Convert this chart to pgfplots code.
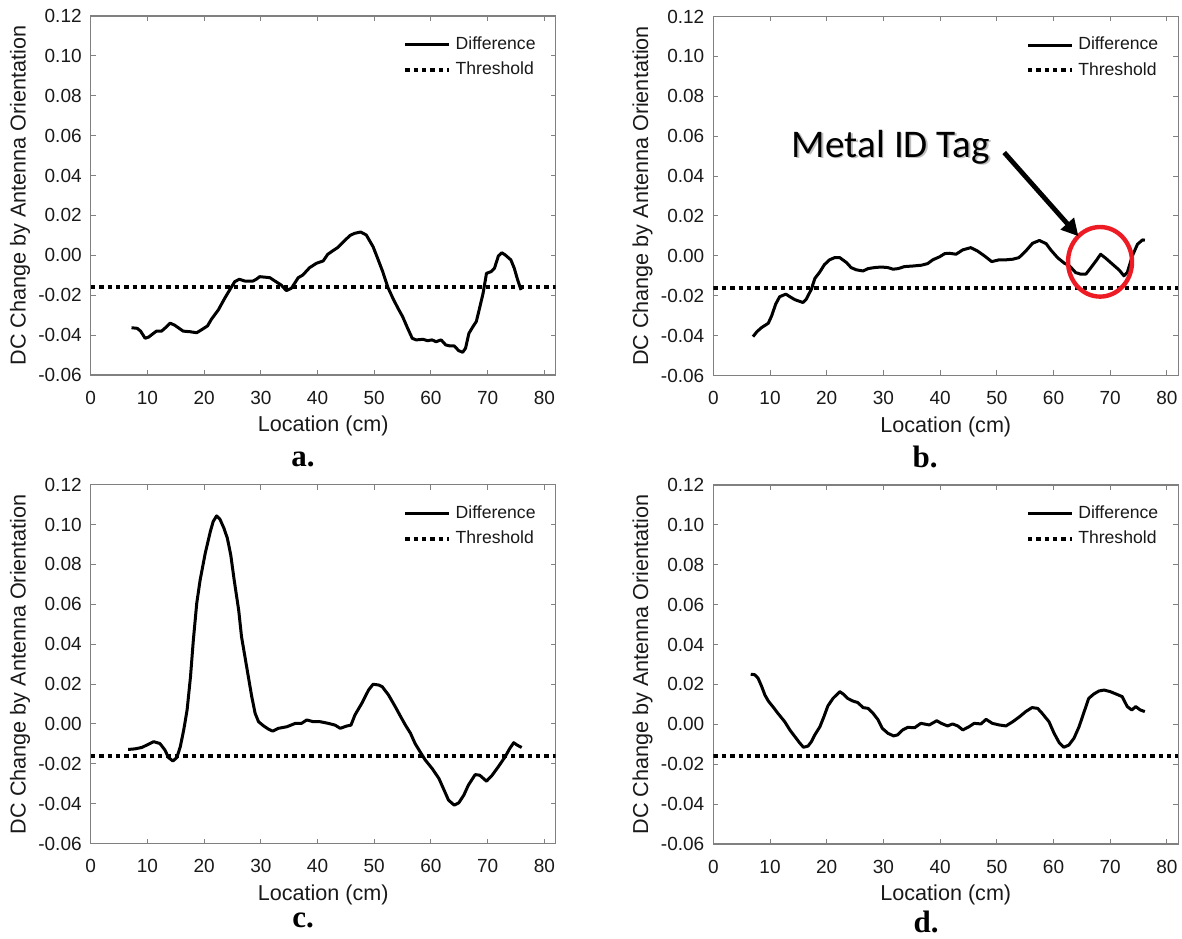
\documentclass[border=0pt]{standalone}
\usepackage{fontspec}
\setmainfont{Liberation Sans}
\newfontfamily\labelfont{Liberation Serif}
\newfontfamily\calfont{Carlito}
\usepackage{pgfplots}
\pgfplotsset{compat=1.18}
\usetikzlibrary{arrows.meta}
\definecolor{cred}{RGB}{237,28,36}

\pgfplotsset{panel/.style={
  scale only axis, width=232.5pt, height=179.5pt, anchor=south west,
  xmin=0, xmax=82, ymin=-0.06, ymax=0.12,
  xtick={0,10,...,80},
  ytick={-0.06,-0.04,-0.02,0,0.02,0.04,0.06,0.08,0.1,0.12},
  yticklabel style={/pgf/number format/fixed, /pgf/number format/fixed zerofill, /pgf/number format/precision=2, xshift=-1pt},
  /pgf/number format/assume math mode=true,
  tick align=inside, major tick length=2.5pt,
  tick style={black!50, line width=0.5pt},
  axis line style={black!50, line width=0.6pt},
  ticklabel style={font=\fontsize{9.5}{11}\selectfont, text=black!90},
  xticklabel style={yshift=-4.4pt},
  xlabel={Location (cm)}, ylabel={DC Change by Antenna Orientation},
  label style={font=\fontsize{10.8}{12}\selectfont, text=black!90},
  xlabel style={at={(axis description cs:0.5,-0.142)}, anchor=center},
  ylabel style={at={(axis description cs:-0.152,0.5)}, anchor=center},
  legend style={draw=none, fill=none, at={(axis description cs:1,1)}, anchor=north east,
    xshift=-7.6pt, yshift=-7.9pt, font=\fontsize{8.8}{10}\selectfont, text=black!90,
    row sep=0.3pt, inner sep=0pt, nodes={inner sep=2.25pt}},
  legend cell align=left,
  legend image code/.code={\draw[#1] (0pt,0pt) -- (22pt,0pt);},
}}
\pgfplotsset{diff/.style={black, line width=1.5pt, line join=round},
  thr/.style={black, line width=2pt, dash pattern=on 2.2pt off 2pt}}

\begin{document}
\begin{tikzpicture}
\useasboundingbox (0,0) rectangle (591pt,469pt);

% ---------- a ----------
\begin{axis}[panel, at={(45.35pt,281.5pt)}]
\addplot[diff] coordinates {
(7.2,-0.0363) (8.2,-0.0366) (8.8,-0.038) (9.6,-0.0416) (10.2,-0.041) (11.6,-0.038)
(12.5,-0.038) (13.3,-0.036) (14.0,-0.034) (14.8,-0.035) (16.3,-0.038) (17.5,-0.0383)
(18.7,-0.0388) (19.5,-0.0374) (20.6,-0.0354) (21.3,-0.032) (22.5,-0.0274) (23.7,-0.0212)
(24.5,-0.0174) (25.4,-0.0132) (26.2,-0.012) (27.2,-0.0129) (28.6,-0.0129) (29.2,-0.012)
(29.8,-0.0107) (31.6,-0.0112) (32.5,-0.0129) (33.6,-0.0149) (34.5,-0.0177) (35.4,-0.0165)
(36.6,-0.0112) (37.4,-0.0099) (38.6,-0.0062) (39.8,-0.004) (41.0,-0.0028) (41.8,0.0005)
(42.7,0.0023) (43.6,0.004) (44.8,0.0074) (45.7,0.0099) (46.5,0.011) (47.6,0.0117)
(48.6,0.0102) (49.8,0.0043) (50.6,-0.0015) (51.5,-0.0082) (52.4,-0.016) (53.3,-0.0216)
(54.2,-0.0266) (55.0,-0.0307) (55.9,-0.0366) (56.7,-0.0416) (57.4,-0.0424) (58.6,-0.0421)
(59.4,-0.0428) (60.2,-0.0424) (60.9,-0.0433) (61.8,-0.0424) (62.6,-0.0449) (63.3,-0.0454)
(64.1,-0.0454) (64.9,-0.0478) (65.6,-0.0486) (66.1,-0.0466) (66.7,-0.0391) (67.4,-0.0358)
(68.0,-0.0332) (68.5,-0.0274) (69.2,-0.019) (69.8,-0.009) (70.6,-0.0082) (71.2,-0.0065)
(71.9,-0.0003) (72.5,0.0013) (73.1,0.0002) (74.1,-0.0023) (74.7,-0.0065) (75.3,-0.0124)
(75.9,-0.0174)};
\addlegendentry{Difference}
\addplot[thr] coordinates {(0,-0.016) (82,-0.016)};
\addlegendentry{Threshold}
\end{axis}

% ---------- b ----------
\begin{axis}[panel, at={(356.65pt,281.25pt)}]
\addplot[diff] coordinates {
(7.0,-0.0405) (7.7,-0.038) (8.5,-0.036) (9.7,-0.0338) (10.3,-0.030) (11.0,-0.0242)
(11.7,-0.0205) (12.8,-0.0192) (13.5,-0.0205) (14.4,-0.022) (15.8,-0.0234) (16.4,-0.0217)
(17.3,-0.0167) (17.9,-0.0114) (18.8,-0.008) (19.6,-0.0044) (20.5,-0.002) (21.4,-0.0009)
(22.3,-0.0009) (23.5,-0.0034) (24.3,-0.0059) (25.2,-0.007) (26.4,-0.0076) (27.3,-0.0064)
(28.4,-0.0059) (29.6,-0.0056) (30.8,-0.0059) (31.7,-0.0067) (32.6,-0.0064) (33.7,-0.0054)
(35.2,-0.0051) (36.7,-0.0047) (37.8,-0.0039) (38.7,-0.002) (39.9,-0.0005) (40.8,0.0011)
(41.6,0.0013) (42.8,0.0008) (44.0,0.003) (45.4,0.0041) (46.6,0.0024) (47.8,0.0)
(49.1,-0.0029) (50.4,-0.002) (51.6,-0.002) (52.8,-0.0017) (53.9,-0.0009) (55.1,0.0024)
(56.3,0.0063) (57.5,0.0077) (58.7,0.0061) (59.5,0.003) (60.7,-0.0009) (61.9,-0.0037)
(62.8,-0.005) (63.9,-0.0084) (64.8,-0.0092) (65.7,-0.0092) (66.6,-0.0059) (67.5,-0.0025)
(68.3,0.0008) (69.2,-0.0012) (70.4,-0.0042) (71.6,-0.0072) (72.4,-0.010) (73.0,-0.0084)
(73.9,0.0) (74.8,0.0058) (75.7,0.008) (76.1,0.0078)};
\addlegendentry{Difference}
\addplot[thr] coordinates {(0,-0.016) (82,-0.016)};
\addlegendentry{Threshold}
\draw[cred, line width=2.2pt] (axis cs:68.2,-0.003) ellipse [x radius=16pt, y radius=17.4pt];
\node[anchor=base west, inner sep=0pt, text=black!25, font=\calfont\fontsize{19.6}{22}\selectfont]
  at ([shift={(0.7pt,-0.7pt)}]axis cs:13.8,0.0493) {Metal ID Tag};
\node[anchor=base west, inner sep=0pt, text=black, font=\calfont\fontsize{19.6}{22}\selectfont]
  at (axis cs:13.8,0.0493) {Metal ID Tag};
\draw[black, line width=2.4pt, -{Triangle[length=8.5pt,width=8.5pt]}]
  (axis cs:51.3,0.0518) -- (axis cs:64.4,0.0098);
\end{axis}

% ---------- c ----------
\begin{axis}[panel, at={(45.35pt,47.2pt)}]
\addplot[diff] coordinates {
(6.6,-0.0128) (7.8,-0.0125) (9.0,-0.0118) (9.9,-0.0106) (11.1,-0.0089) (12.2,-0.0098)
(13.1,-0.0131) (13.7,-0.0168) (14.5,-0.0186) (15.2,-0.0168) (15.8,-0.0114) (16.4,-0.0031)
(17.0,0.007) (17.6,0.0237) (18.1,0.042) (18.7,0.0605) (19.3,0.0722) (20.2,0.0856)
(21.1,0.0965) (21.6,0.1015) (22.2,0.1043) (22.8,0.1026) (23.5,0.0981) (24.1,0.0931)
(24.7,0.0847) (25.3,0.0722) (26.1,0.057) (26.6,0.0437) (27.2,0.0337) (27.8,0.0237)
(28.4,0.0137) (29.0,0.0053) (29.6,0.0011) (30.5,-0.001) (31.4,-0.0027) (32.1,-0.0036)
(33.1,-0.0022) (34.6,-0.0014) (36.1,0.0003) (37.2,0.0003) (38.1,0.002) (39.3,0.0011)
(40.5,0.0011) (41.9,0.0003) (43.1,-0.0006) (44.0,-0.0022) (45.2,-0.001) (45.9,-0.0006)
(46.6,0.0045) (47.8,0.0103) (49.0,0.017) (49.8,0.0199) (50.8,0.0195) (51.4,0.0187)
(52.5,0.0146) (53.7,0.0087) (54.6,0.004) (55.5,-0.0006) (56.4,-0.0047) (57.2,-0.0098)
(58.1,-0.014) (59.0,-0.0181) (60.2,-0.0223) (61.4,-0.0273) (62.2,-0.0324) (63.1,-0.0382)
(64.1,-0.0407) (64.9,-0.0396) (65.8,-0.0357) (66.6,-0.0307) (67.8,-0.0254) (68.6,-0.0257)
(69.8,-0.0287) (70.8,-0.0257) (71.9,-0.0214) (73.1,-0.0164) (73.9,-0.0123) (74.6,-0.0094)
(75.2,-0.0106) (76.0,-0.0118)};
\addlegendentry{Difference}
\addplot[thr] coordinates {(0,-0.016) (82,-0.016)};
\addlegendentry{Threshold}
\end{axis}

% ---------- d ----------
\begin{axis}[panel, at={(356.65pt,47pt)}]
\addplot[diff] coordinates {
(6.6,0.0251) (7.3,0.0249) (7.9,0.0231) (8.5,0.0192) (9.1,0.0147) (9.7,0.0117)
(10.6,0.0085) (11.4,0.0055) (12.6,0.0013) (13.5,-0.0028) (14.4,-0.0062) (15.2,-0.0092)
(15.9,-0.0115) (16.7,-0.0109) (17.3,-0.0087) (17.9,-0.0053) (18.8,-0.0012) (19.5,0.0038)
(20.2,0.0092) (21.1,0.013) (21.7,0.0147) (22.3,0.0164) (23.0,0.015) (23.7,0.013)
(24.6,0.0117) (25.5,0.0109) (26.4,0.0084) (27.3,0.008) (28.1,0.0058) (29.0,0.0025)
(29.8,-0.002) (30.8,-0.0045) (31.8,-0.0058) (32.5,-0.0053) (33.4,-0.0028) (34.3,-0.0015)
(35.5,-0.0017) (36.6,0.0005) (38.1,-0.0003) (39.4,0.0018) (40.2,0.0005) (41.3,-0.0008)
(42.2,0.0002) (43.1,-0.0008) (44.0,-0.0028) (45.1,-0.0012) (46.0,0.0005) (47.2,0.0002)
(48.1,0.0025) (49.2,0.0005) (50.4,-0.0003) (51.6,-0.0008) (52.8,0.0013) (54.0,0.0038)
(55.1,0.0064) (56.2,0.0084) (57.2,0.008) (58.0,0.0055) (59.2,0.0013) (60.1,-0.0045)
(61.0,-0.0092) (61.8,-0.0115) (62.7,-0.0104) (63.6,-0.007) (64.5,-0.0012) (65.3,0.0055)
(66.2,0.013) (67.1,0.0152) (68.0,0.0167) (68.9,0.0172) (70.0,0.0164) (71.2,0.015)
(72.1,0.0139) (73.0,0.0089) (73.8,0.0072) (74.5,0.0089) (75.3,0.0072) (76.1,0.0064)};
\addlegendentry{Difference}
\addplot[thr] coordinates {(0,-0.016) (82,-0.016)};
\addlegendentry{Threshold}
\end{axis}

% panel letters
\tikzset{plab/.style={anchor=base, inner sep=0pt, font=\labelfont\bfseries\fontsize{15.5}{17}\selectfont}}
\node[plab] at (151.5pt,235.6pt) {a.};
\node[plab] at (462.5pt,235.2pt) {b.};
\node[plab] at (151.5pt,5.2pt) {c.};
\node[plab] at (463pt,2.8pt) {d.};
\end{tikzpicture}
\end{document}
